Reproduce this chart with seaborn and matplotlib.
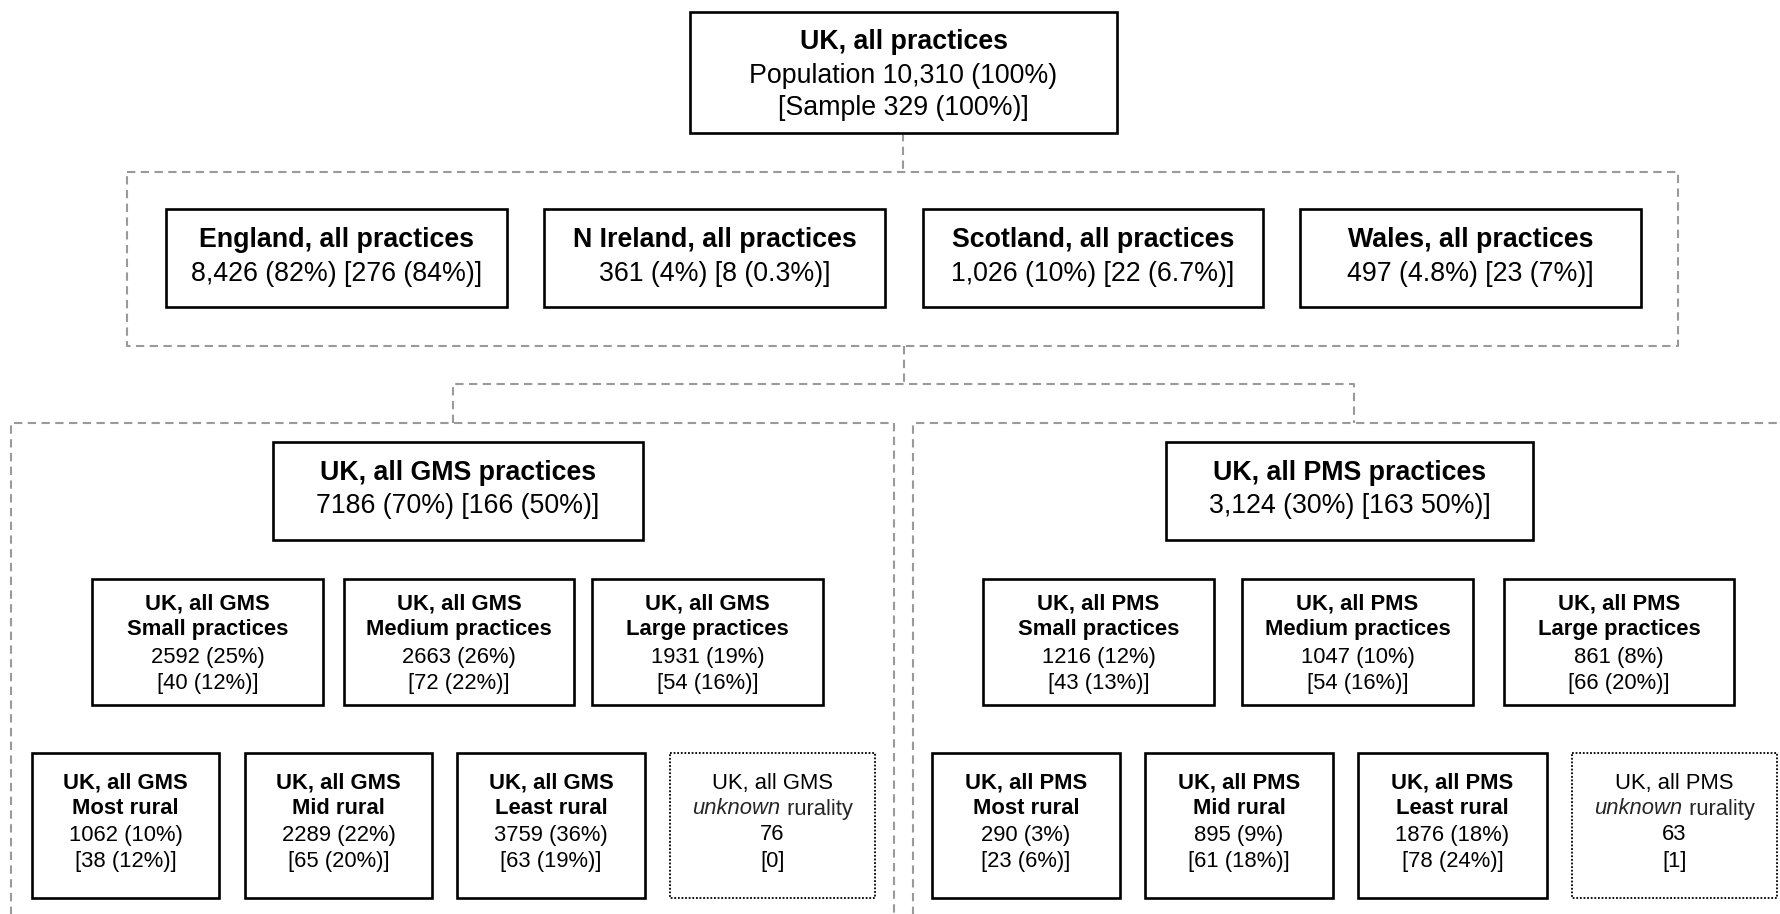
import matplotlib
matplotlib.use("Agg")
import matplotlib.pyplot as plt
from matplotlib.patches import Rectangle
import seaborn as sns

# Data (as printed in the chart)
top_title = "UK, all practices"
top_lines = ["Population 10,310 (100%)", "[Sample 329 (100%)]"]

countries = ["England", "N Ireland", "Scotland", "Wales"]
country_pop = ["8,426 (82%)", "361 (4%)", "1,026 (10%)", "497 (4.8%)"]
country_sample = ["[276 (84%)]", "[8 (0.3%)]", "[22 (6.7%)]", "[23 (7%)]"]

contracts = ["GMS", "PMS"]
contract_pop = ["7186 (70%)", "3,124 (30%)"]
contract_sample = ["[166 (50%)]", "[163 50%)]"]

sizes = ["Small", "Medium", "Large"]
gms_size_pop = [2592, 2663, 1931]
gms_size_pct = [25, 26, 19]
gms_size_n = [40, 72, 54]
gms_size_npct = [12, 22, 16]
pms_size_pop = [1216, 1047, 861]
pms_size_pct = [12, 10, 8]
pms_size_n = [43, 54, 66]
pms_size_npct = [13, 16, 20]

rurality = ["Most rural", "Mid rural", "Least rural"]
gms_rural_pop = [1062, 2289, 3759]
gms_rural_pct = [10, 22, 36]
gms_rural_n = [38, 65, 63]
gms_rural_npct = [12, 20, 19]
pms_rural_pop = [290, 895, 1876]
pms_rural_pct = [3, 9, 18]
pms_rural_n = [23, 61, 78]
pms_rural_npct = [6, 18, 24]
unknown_pop = [76, 63]
unknown_n = [0, 1]

# Layout (pixel units of the 1780x914 canvas)
W, H = 1780, 914
top_box = (690, 12, 1117, 133)
country_x = [(166, 507), (544, 885), (923, 1263), (1300, 1641)]
country_y = (209, 307)
contract_x = [(273, 643), (1166, 1533)]
contract_y = (442, 540)
size_x = [[(92, 323), (344, 574), (592, 823)],
          [(983, 1214), (1242, 1473), (1504, 1734)]]
size_y = (579, 705)
rural_x = [[(32, 219), (245, 432), (457, 645), (670, 875)],
           [(932, 1120), (1145, 1333), (1358, 1547), (1572, 1777)]]
rural_y = (753, 898)
rural_lines = [783, 809, 835, 861]

BIG = 19.3
SMALL = 15.8
GREY = "#9a9a9a"

sns.set_theme(style="white")
plt.rcParams["font.family"] = ["Liberation Sans", "DejaVu Sans"]

fig = plt.figure(figsize=(W / 100, H / 100), dpi=100)
ax = fig.add_axes([0, 0, 1, 1])
ax.set_xlim(0, W)
ax.set_ylim(H, 0)
ax.axis("off")
renderer = fig.canvas.get_renderer()


def box(x0, y0, x1, y1, ls="-", lw=1.9):
    ax.add_patch(Rectangle((x0, y0), x1 - x0, y1 - y0, fill=False,
                           edgecolor="black", linewidth=lw, linestyle=ls,
                           joinstyle="miter", zorder=3))


def dash(xs, ys):
    ax.plot(xs, ys, color=GREY, linewidth=1.5, linestyle=(0, (4, 2.6)),
            solid_joinstyle="miter", zorder=1)


def lines(cx, ys, texts, weights, size):
    for y, t, w in zip(ys, texts, weights):
        ax.text(cx, y, t, ha="center", va="center", fontsize=size,
                fontweight=w, color="black", zorder=4)


# dashed containers and connectors
dash([903, 903], [133, 172])
dash([127, 1678, 1678, 127, 127], [172, 172, 346, 346, 172])
dash([904, 904], [346, 384])
dash([453, 453, 1354, 1354], [423, 384, 384, 423])
dash([11, 11, 894, 894], [H + 5, 423, 423, H + 5])
dash([913, 913, W + 5], [H + 5, 423, 423])

# top box
box(*top_box)
lines((top_box[0] + top_box[2]) / 2, [42, 76, 108],
      [top_title] + top_lines, ["bold", "normal", "normal"], BIG)

# countries
for (x0, x1), name, p, s in zip(country_x, countries, country_pop, country_sample):
    box(x0, country_y[0], x1, country_y[1])
    lines((x0 + x1) / 2, [240, 274],
          [f"{name}, all practices", f"{p} {s}"], ["bold", "normal"], BIG)

# contract type
for (x0, x1), c, p, s in zip(contract_x, contracts, contract_pop, contract_sample):
    box(x0, contract_y[0], x1, contract_y[1])
    lines((x0 + x1) / 2, [473, 506],
          [f"UK, all {c} practices", f"{p} {s}"], ["bold", "normal"], BIG)

# practice size
size_data = [(gms_size_pop, gms_size_pct, gms_size_n, gms_size_npct),
             (pms_size_pop, pms_size_pct, pms_size_n, pms_size_npct)]
for k, c in enumerate(contracts):
    pop, pct, n, npct = size_data[k]
    for i, (x0, x1) in enumerate(size_x[k]):
        box(x0, size_y[0], x1, size_y[1])
        lines((x0 + x1) / 2, [604, 630, 657, 683],
              [f"UK, all {c}", f"{sizes[i]} practices",
               f"{pop[i]} ({pct[i]}%)", f"[{n[i]} ({npct[i]}%)]"],
              ["bold", "bold", "normal", "normal"], SMALL)

# rurality
rural_data = [(gms_rural_pop, gms_rural_pct, gms_rural_n, gms_rural_npct),
              (pms_rural_pop, pms_rural_pct, pms_rural_n, pms_rural_npct)]
for k, c in enumerate(contracts):
    pop, pct, n, npct = rural_data[k]
    for i, (x0, x1) in enumerate(rural_x[k][:3]):
        box(x0, rural_y[0], x1, rural_y[1])
        lines((x0 + x1) / 2, rural_lines,
              [f"UK, all {c}", rurality[i],
               f"{pop[i]} ({pct[i]}%)", f"[{n[i]} ({npct[i]}%)]"],
              ["bold", "bold", "normal", "normal"], SMALL)
    x0, x1 = rural_x[k][3]
    box(x0, rural_y[0], x1, rural_y[1], ls=(0, (1, 1)), lw=1.3)
    cx = (x0 + x1) / 2
    lines(cx, [rural_lines[0], rural_lines[2], rural_lines[3]],
          [f"UK, all {c}", f"{unknown_pop[k]}", f"[{unknown_n[k]}]"],
          ["normal", "normal", "normal"], SMALL)
    # "unknown" in italics followed by regular " rurality"
    t1 = ax.text(0, rural_lines[1], "unknown", ha="left", va="center",
                 fontsize=SMALL, style="italic", zorder=4)
    t2 = ax.text(0, rural_lines[1], " rurality", ha="left", va="center",
                 fontsize=SMALL, zorder=4)
    w1 = t1.get_window_extent(renderer).width
    w2 = t2.get_window_extent(renderer).width
    start = cx - (w1 + w2) / 2
    t1.set_x(start)
    t2.set_x(start + w1)

fig.savefig("out.png", dpi=100, facecolor="white")
